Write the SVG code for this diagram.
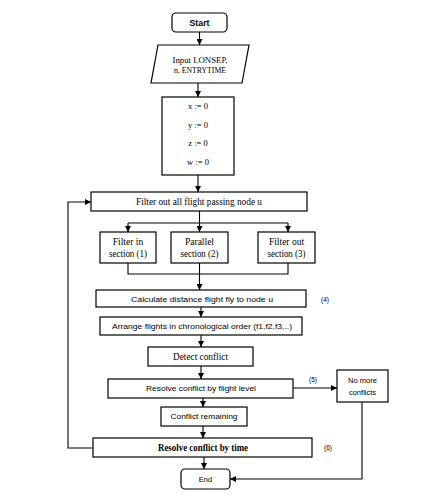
<svg xmlns="http://www.w3.org/2000/svg" width="437" height="496" viewBox="0 0 437 496">
<defs>
<style>
.box{fill:#fff;stroke:#000;stroke-width:1.2}
.ln{fill:none;stroke:#000;stroke-width:1.1}
.ser{font-family:"Liberation Serif","Times New Roman",serif;fill:#000;text-anchor:middle}
.san{font-family:"Liberation Sans",Arial,sans-serif;fill:#000;text-anchor:middle}
</style>
<marker id="ah" viewBox="0 0 10 10" refX="10" refY="5" markerWidth="6" markerHeight="6" markerUnits="userSpaceOnUse" orient="auto">
<path d="M0,0 L10,5 L0,10 z" fill="#000"/>
</marker>
</defs>
<rect width="437" height="496" fill="#fff"/>

<g id="connectors">
<line class="ln" x1="199.5" y1="32" x2="199.5" y2="45" marker-end="url(#ah)"/>
<line class="ln" x1="198" y1="83" x2="198" y2="97" marker-end="url(#ah)"/>
<line class="ln" x1="198" y1="175" x2="198" y2="192" marker-end="url(#ah)"/>
<polyline class="ln" points="199.5,211 199.5,223"/>
<polyline class="ln" points="128,223 288,223"/>
<line class="ln" x1="128" y1="223" x2="128" y2="232" marker-end="url(#ah)"/>
<line class="ln" x1="199.5" y1="223" x2="199.5" y2="232" marker-end="url(#ah)"/>
<line class="ln" x1="288" y1="223" x2="288" y2="232" marker-end="url(#ah)"/>
<polyline class="ln" points="128,263 128,274 288,274 288,263"/>
<line class="ln" x1="199.5" y1="263" x2="199.5" y2="290" marker-end="url(#ah)"/>
<line class="ln" x1="201" y1="307" x2="201" y2="317" marker-end="url(#ah)"/>
<line class="ln" x1="201" y1="335" x2="201" y2="347" marker-end="url(#ah)"/>
<line class="ln" x1="201" y1="366" x2="201" y2="379" marker-end="url(#ah)"/>
<line class="ln" x1="293" y1="388" x2="337" y2="388" marker-end="url(#ah)"/>
<line class="ln" x1="203" y1="398" x2="203" y2="407" marker-end="url(#ah)"/>
<line class="ln" x1="203" y1="426" x2="203" y2="438" marker-end="url(#ah)"/>
<polyline class="ln" points="93,448 68,448 68,202 91,202" marker-end="url(#ah)"/>
<line class="ln" x1="204" y1="457" x2="204" y2="469" marker-end="url(#ah)"/>
<polyline class="ln" points="362,402 362,479 230,479" marker-end="url(#ah)"/>
</g>

<g id="start">
<rect class="box" x="172" y="13" width="55" height="19" rx="4"/>
<text class="san" x="199.5" y="26" font-size="9" font-weight="bold" textLength="20" lengthAdjust="spacingAndGlyphs">Start</text>
</g>

<g id="input">
<polygon class="box" points="158,45 249,45 242,83 151,83"/>
<text class="ser" x="200" y="62.5" font-size="8" textLength="55" lengthAdjust="spacingAndGlyphs">Input LONSEP,</text>
<text class="ser" x="200" y="73" font-size="8" textLength="52" lengthAdjust="spacingAndGlyphs">n, ENTRYTIME</text>
</g>

<g id="init">
<rect class="box" x="162" y="97" width="72" height="78"/>
<text class="ser" x="198" y="109" font-size="8.5">x := 0</text>
<text class="ser" x="198" y="127.5" font-size="8.5">y := 0</text>
<text class="ser" x="198" y="146" font-size="8.5">z := 0</text>
<text class="ser" x="198" y="165" font-size="8.5">w := 0</text>
</g>

<g id="filter">
<rect class="box" x="91" y="192" width="216" height="19"/>
<text class="ser" x="199" y="204.5" font-size="9.5" textLength="126" lengthAdjust="spacingAndGlyphs">Filter out all flight passing node u</text>
</g>

<g id="sec1">
<rect class="box" x="100" y="232" width="56" height="31"/>
<text class="ser" x="128" y="245" font-size="9.5">Filter in</text>
<text class="ser" x="128" y="256.5" font-size="9.5" textLength="38" lengthAdjust="spacingAndGlyphs">section (1)</text>
</g>

<g id="sec2">
<rect class="box" x="171" y="232" width="57" height="31"/>
<text class="ser" x="199.5" y="245" font-size="9.5">Parallel</text>
<text class="ser" x="199.5" y="256.5" font-size="9.5" textLength="38" lengthAdjust="spacingAndGlyphs">section (2)</text>
</g>

<g id="sec3">
<rect class="box" x="258" y="232" width="57" height="31"/>
<text class="ser" x="286.5" y="245" font-size="9.5">Filter out</text>
<text class="ser" x="286.5" y="256.5" font-size="9.5" textLength="38" lengthAdjust="spacingAndGlyphs">section (3)</text>
</g>

<g id="calc">
<rect class="box" x="96" y="290" width="210" height="17"/>
<text class="san" x="202" y="301.5" font-size="8" textLength="142" lengthAdjust="spacingAndGlyphs">Calculate distance flight fly to node u</text>
<text class="san" x="325" y="301.5" font-size="6.5">(4)</text>
</g>

<g id="arrange">
<rect class="box" x="100" y="317" width="202" height="18"/>
<text class="san" x="202" y="329" font-size="8" textLength="180" lengthAdjust="spacingAndGlyphs">Arrange flights in chronological order (f1,f2,f3,..)</text>
</g>

<g id="detect">
<rect class="box" x="148" y="347" width="105" height="19"/>
<text class="ser" x="200.5" y="359.5" font-size="9.5" textLength="55" lengthAdjust="spacingAndGlyphs">Detect conflict</text>
</g>

<g id="resolveLevel">
<rect class="box" x="108" y="379" width="185" height="19"/>
<text class="san" x="201" y="391" font-size="8" textLength="110" lengthAdjust="spacingAndGlyphs">Resolve conflict by flight level</text>
<text class="san" x="313" y="382" font-size="6.5">(5)</text>
</g>

<g id="noMore">
<rect class="box" x="337" y="370" width="51" height="32"/>
<text class="san" x="362.5" y="383" font-size="7.5">No more</text>
<text class="san" x="362.5" y="395" font-size="7.5">conflicts</text>
</g>

<g id="remaining">
<rect class="box" x="161" y="407" width="86" height="19"/>
<text class="san" x="204" y="419" font-size="8" textLength="67" lengthAdjust="spacingAndGlyphs">Conflict remaining</text>
</g>

<g id="resolveTime">
<rect class="box" x="93" y="438" width="219" height="19"/>
<text class="ser" x="203" y="450.5" font-size="10" font-weight="bold" textLength="90" lengthAdjust="spacingAndGlyphs">Resolve conflict by time</text>
<text class="san" x="328" y="450" font-size="6.5">(6)</text>
</g>

<g id="end">
<rect class="box" x="181" y="469" width="49" height="20" rx="4"/>
<text class="san" x="205.5" y="482" font-size="7.5">End</text>
</g>
</svg>
